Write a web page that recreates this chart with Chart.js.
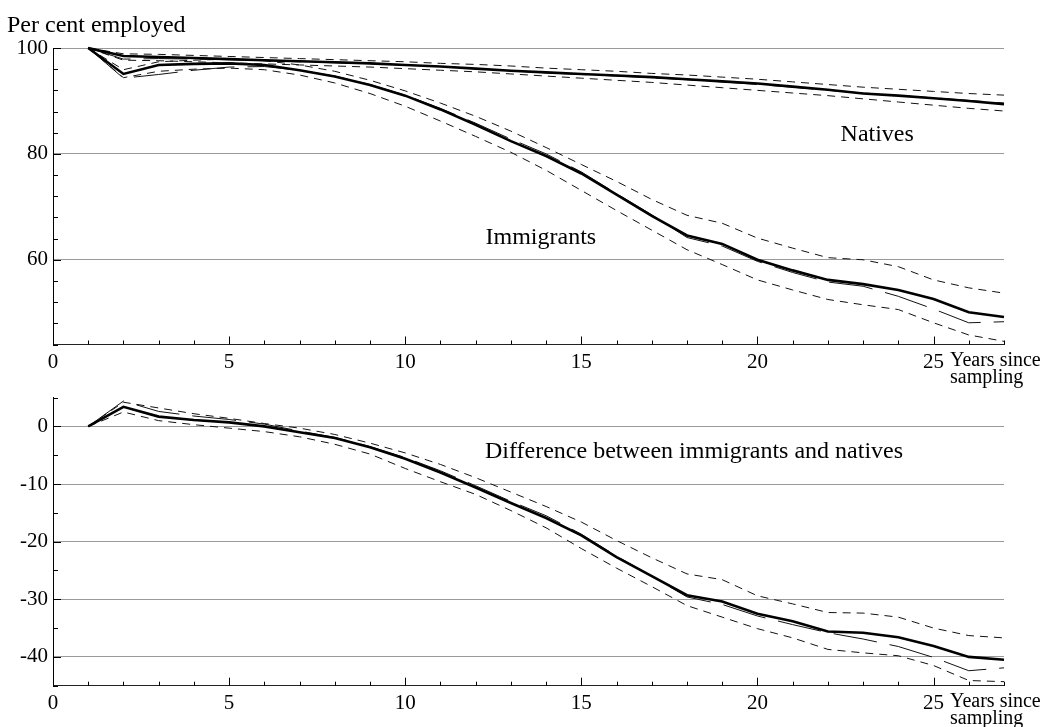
<!DOCTYPE html>
<html>
<head>
<meta charset="utf-8">
<script src="https://cdn.jsdelivr.net/npm/chart.js@4.4.1/dist/chart.umd.min.js"></script>
<style>
  html, body { margin: 0; padding: 0; background: #fff; }
  #wrap { position: relative; width: 1045px; height: 727px; }
  canvas { position: absolute; left: 0; }
</style>
</head>
<body>
<div id="wrap">
  <canvas id="difference" width="1045" height="347" style="top:380px;width:1045px;height:347px"></canvas>
  <canvas id="employed" width="1045" height="400" style="top:0;width:1045px;height:400px"></canvas>
</div>
<script>
// Years since sampling
const years = [1, 2, 3, 4, 5, 6, 7, 8, 9, 10, 11, 12, 13, 14, 15, 16, 17, 18, 19, 20, 21, 22, 23, 24, 25, 26, 27];
const xTickLabels = [0, 5, 10, 15, 20, 25];

// Per cent employed, natives
const nativesMain  = [100, 98.5, 98.3, 98.1, 97.9, 97.7, 97.5, 97.3, 97.1, 96.8, 96.5, 96.1, 95.7, 95.4, 95.1, 94.8, 94.5, 94.1, 93.7, 93.3, 92.7, 92.1, 91.4, 91.0, 90.5, 90.0, 89.4];
const nativesAlt   = [100, 97.9, 98.0, 97.9, 97.8, 97.6, 97.4, 97.2, 97.0, 96.8, 96.5, 96.1, 95.7, 95.3, 95.0, 94.7, 94.4, 94.0, 93.6, 93.1, 92.6, 92.0, 91.5, 91.0, 90.6, 90.1, 89.6];
const nativesUpper = [100, 98.9, 98.8, 98.6, 98.4, 98.2, 98.0, 97.8, 97.6, 97.4, 97.1, 96.9, 96.6, 96.2, 95.9, 95.6, 95.2, 94.9, 94.5, 94.1, 93.6, 93.1, 92.6, 92.2, 91.8, 91.4, 91.1];
const nativesLower = [100, 97.7, 97.6, 97.4, 97.2, 97.0, 96.8, 96.6, 96.4, 96.1, 95.8, 95.5, 95.1, 94.7, 94.3, 93.9, 93.5, 93.0, 92.5, 92.0, 91.5, 91.0, 90.4, 89.8, 89.2, 88.6, 88.1];

// Per cent employed, immigrants
const immigrantsMain  = [100, 95.1, 96.8, 97.0, 97.1, 96.8, 95.8, 94.6, 93.0, 91.0, 88.4, 85.5, 82.4, 79.6, 76.3, 72.3, 68.3, 64.6, 63.0, 60.0, 58.0, 56.2, 55.4, 54.3, 52.6, 50.1, 49.2];
const immigrantsAlt   = [100, 94.3, 95.0, 95.8, 96.4, 96.5, 95.8, 94.7, 93.1, 91.1, 88.6, 85.8, 82.8, 80.0, 76.6, 72.5, 68.5, 64.2, 62.6, 59.7, 57.6, 55.8, 55.0, 53.1, 50.7, 48.1, 48.3];
const immigrantsUpper = [100, 95.9, 97.4, 97.7, 97.9, 97.6, 96.8, 95.6, 93.9, 91.9, 89.6, 87.1, 84.3, 81.2, 78.0, 74.8, 71.4, 68.4, 66.9, 64.1, 62.2, 60.4, 60.0, 58.7, 56.2, 54.7, 53.7];
const immigrantsLower = [100, 94.4, 95.6, 96.0, 96.2, 95.9, 94.9, 93.4, 91.4, 89.0, 86.2, 83.3, 80.3, 76.9, 73.1, 69.3, 65.6, 61.9, 59.1, 56.2, 54.3, 52.5, 51.5, 50.6, 48.1, 45.8, 44.6];

// Difference between immigrants and natives (percentage points)
const diffMain  = [0, 3.4, 1.7, 1.1, 0.7, 0.0, -1.0, -2.0, -3.6, -5.6, -8.0, -10.6, -13.3, -15.9, -18.9, -22.7, -26.0, -29.3, -30.4, -32.5, -33.8, -35.6, -35.8, -36.6, -38.1, -40.0, -40.5];
const diffAlt   = [0, 4.4, 2.6, 1.8, 1.2, 0.4, -0.8, -1.9, -3.5, -5.4, -7.7, -10.3, -13.0, -15.5, -18.7, -22.5, -26.0, -29.6, -30.9, -32.9, -34.4, -35.8, -36.9, -38.2, -40.1, -42.4, -41.9];
const diffUpper = [0, 4.2, 3.2, 2.2, 1.4, 0.5, -0.3, -1.4, -2.9, -4.6, -6.6, -8.9, -11.4, -13.9, -16.6, -19.8, -22.8, -25.6, -26.6, -29.4, -30.8, -32.3, -32.4, -33.1, -35.0, -36.3, -36.7];
const diffLower = [0, 2.5, 1.0, 0.3, -0.3, -0.9, -1.8, -3.1, -4.8, -7.3, -9.6, -11.8, -14.6, -17.6, -21.2, -24.6, -27.8, -31.1, -33.1, -35.1, -36.7, -38.7, -39.3, -39.8, -41.5, -44.1, -44.3];

const topTicks = [60, 80, 100];
const bottomTicks = [-40, -30, -20, -10, 0];

const SERIF = "'Liberation Serif', 'Times New Roman', serif";

function pts(values) {
    return years.map((t, i) => ({ x: t, y: values[i] }));
}

// four lines per group: estimate, alternative estimate, confidence band
function group(main, alt, upper, lower) {
    return [
        { data: pts(main), borderColor: '#000', borderWidth: 2.6 },
        { data: pts(alt), borderColor: '#111', borderWidth: 1, borderDash: [44, 13] },
        { data: pts(upper), borderColor: '#111', borderWidth: 1, borderDash: [8, 6] },
        { data: pts(lower), borderColor: '#111', borderWidth: 1, borderDash: [8, 6] },
    ].map(d => Object.assign(d, { pointRadius: 0, tension: 0, fill: false, clip: false }));
}

// small inside tick marks on both axes, text labels
const decorations = {
    id: 'decorations',
    afterDraw(chart, args, opts) {
        const { ctx, chartArea: a, scales: { x, y } } = chart;
        ctx.save();
        ctx.strokeStyle = '#000';
        ctx.lineWidth = 1;
        ctx.beginPath();
        for (let t = 0; t <= 27; t++) {
            const px = Math.round(x.getPixelForValue(t)) + 0.5;
            const len = t % 5 === 0 ? 8 : 4;
            ctx.moveTo(px, a.bottom);
            ctx.lineTo(px, a.bottom - len);
        }
        for (let v = y.max; v >= y.min - 0.001; v -= opts.yStep) {
            const py = Math.round(y.getPixelForValue(v)) + 0.5;
            const len = opts.yMajor.includes(Math.round(v)) ? 8 : 5;
            ctx.moveTo(a.left, py);
            ctx.lineTo(a.left + len, py);
        }
        ctx.stroke();

        ctx.fillStyle = '#000';
        ctx.textBaseline = 'alphabetic';
        for (const lab of opts.labels) {
            ctx.font = lab.size + 'px ' + SERIF;
            ctx.textAlign = lab.align || 'center';
            const px = lab.px !== undefined ? lab.px : x.getPixelForValue(lab.x);
            const py = lab.py !== undefined ? lab.py : y.getPixelForValue(lab.y);
            ctx.fillText(lab.text, px, py);
        }
        // axis title to the right of the last tick label
        ctx.font = '20px ' + SERIF;
        ctx.textAlign = 'left';
        ctx.fillText('Years since', a.right - 54, a.bottom + 21);
        ctx.fillText('sampling', a.right - 54, a.bottom + 38);
        ctx.restore();
    }
};

function makeOptions(yMin, yMax, yTicks, padTop, xHeight, plug) {
    return {
        responsive: false,
        animation: false,
        layout: { padding: { top: padTop, right: 41, left: 0, bottom: 0 } },
        plugins: { legend: { display: false }, tooltip: { enabled: false }, decorations: plug },
        scales: {
            x: {
                type: 'linear',
                min: 0,
                max: 27,
                afterFit: s => { s.height = xHeight; },
                afterBuildTicks: s => { s.ticks = xTickLabels.map(v => ({ value: v })); },
                grid: { display: false, drawTicks: false },
                border: { display: true, color: '#222', width: 1 },
                ticks: { color: '#000', padding: 5, maxRotation: 0, font: { family: SERIF, size: 21 } },
            },
            y: {
                type: 'linear',
                min: yMin,
                max: yMax,
                afterFit: s => { s.width = 53; },
                afterBuildTicks: s => { s.ticks = yTicks.map(v => ({ value: v })); },
                grid: { color: '#999', lineWidth: 1, drawTicks: false },
                border: { display: true, color: '#000', width: 1 },
                ticks: { color: '#000', padding: 5, font: { family: SERIF, size: 21 } },
            },
        },
    };
}

new Chart(document.getElementById('employed'), {
    type: 'line',
    data: { datasets: group(nativesMain, nativesAlt, nativesUpper, nativesLower)
        .concat(group(immigrantsMain, immigrantsAlt, immigrantsUpper, immigrantsLower)) },
    options: makeOptions(44, 100, topTicks, 48, 55.5, {
        yStep: 4,
        yMajor: topTicks,
        labels: [
            { text: 'Per cent employed', px: 7, py: 32, size: 24, align: 'left' },
            { text: 'Natives', x: 23.4, y: 82.5, size: 24 },
            { text: 'Immigrants', x: 13.85, y: 62.9, size: 24 },
        ],
    }),
    plugins: [decorations],
});

new Chart(document.getElementById('difference'), {
    type: 'line',
    data: { datasets: group(diffMain, diffAlt, diffUpper, diffLower) },
    options: makeOptions(-45, 5, bottomTicks, 10.7, 41.3, {
        yStep: 5,
        yMajor: bottomTicks,
        labels: [
            { text: 'Difference between immigrants and natives', x: 18.2, y: -5.5, size: 24 },
        ],
    }),
    plugins: [decorations],
});
</script>
</body>
</html>
